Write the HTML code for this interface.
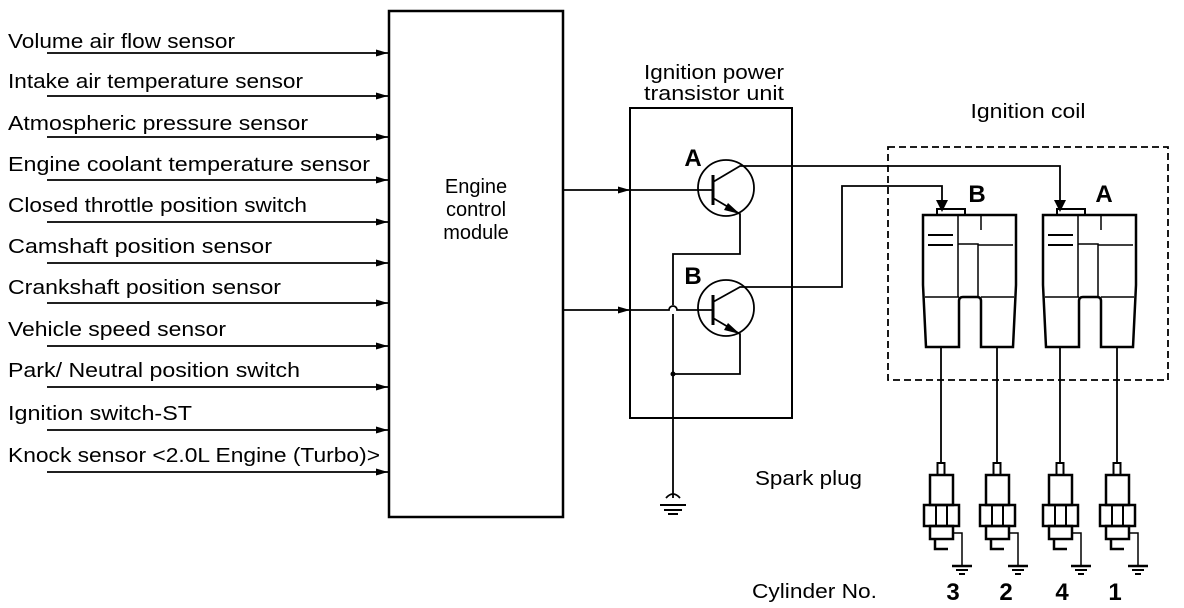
<!DOCTYPE html>
<html><head><meta charset="utf-8"><style>
html,body{margin:0;padding:0;background:#fff;}
svg{display:block;}
text{font-family:"Liberation Sans",Arial,sans-serif;fill:#000;}
</style></head><body>
<svg width="1184" height="608" viewBox="0 0 1184 608" xmlns="http://www.w3.org/2000/svg">
<defs>
<marker id="ar" markerWidth="12" markerHeight="8" refX="12" refY="4" orient="auto" markerUnits="userSpaceOnUse">
<path d="M0,0.5 L12,4 L0,7.5 Z" fill="#000"/></marker>
<g id="plug" fill="none" stroke="#000" stroke-width="2.5">
<rect x="-3.5" y="0" width="7" height="12" stroke-width="2"/>
<rect x="-11" y="12" width="23" height="30"/>
<rect x="-17" y="42" width="35" height="21"/>
<line x1="-5" y1="42" x2="-5" y2="63" stroke-width="2"/>
<line x1="6" y1="42" x2="6" y2="63" stroke-width="2"/>
<rect x="-11" y="63" width="23" height="13"/>
<path d="M-6,76 V86 H7" />
<path d="M12,70 H21 V103" stroke-width="1.5"/>
<line x1="11" y1="103" x2="31" y2="103" stroke-width="2.5"/>
<line x1="15" y1="107" x2="27" y2="107" stroke-width="2"/>
<line x1="18" y1="111" x2="24" y2="111" stroke-width="2"/>
</g>
<g id="coil" fill="none" stroke="#000" stroke-width="2.5">
<path d="M0,0 H93 V70 L90,132 H58 V86 Q58,82 54,82 H40 Q36,82 36,86 V132 H3 L0,70 Z"/>
<rect x="14" y="-6" width="28" height="6" stroke-width="2"/>
<line x1="5" y1="20" x2="30" y2="20" stroke-width="2"/>
<line x1="5" y1="30" x2="30" y2="30" stroke-width="2"/>
<line x1="35" y1="0" x2="35" y2="82" stroke-width="1.5"/>
<path d="M35,29 H55 V82" stroke-width="1.5"/>
<line x1="55" y1="30" x2="90" y2="30" stroke-width="1.5"/>
<line x1="58" y1="0" x2="58" y2="15" stroke-width="1.5"/>
<line x1="2" y1="82" x2="36" y2="82" stroke-width="1.5"/>
<line x1="58" y1="82" x2="91" y2="82" stroke-width="1.5"/>
</g>
</defs>

<g font-size="20" lengthAdjust="spacingAndGlyphs">
<text x="8" y="48" textLength="227" lengthAdjust="spacingAndGlyphs">Volume air flow sensor</text>
<text x="8" y="88" textLength="295" lengthAdjust="spacingAndGlyphs">Intake air temperature sensor</text>
<text x="8" y="130" textLength="300" lengthAdjust="spacingAndGlyphs">Atmospheric pressure sensor</text>
<text x="8" y="171" textLength="362" lengthAdjust="spacingAndGlyphs">Engine coolant temperature sensor</text>
<text x="8" y="212" textLength="299" lengthAdjust="spacingAndGlyphs">Closed throttle position switch</text>
<text x="8" y="253" textLength="264" lengthAdjust="spacingAndGlyphs">Camshaft position sensor</text>
<text x="8" y="294" textLength="273" lengthAdjust="spacingAndGlyphs">Crankshaft position sensor</text>
<text x="8" y="336" textLength="218" lengthAdjust="spacingAndGlyphs">Vehicle speed sensor</text>
<text x="8" y="377" textLength="292" lengthAdjust="spacingAndGlyphs">Park/ Neutral position switch</text>
<text x="8" y="420" textLength="184" lengthAdjust="spacingAndGlyphs">Ignition switch-ST</text>
<text x="8" y="462" textLength="372" lengthAdjust="spacingAndGlyphs">Knock sensor &lt;2.0L Engine (Turbo)&gt;</text>
</g>
<g stroke="#000" stroke-width="1.8" marker-end="url(#ar)">
<line x1="47" y1="53" x2="388" y2="53"/>
<line x1="47" y1="96" x2="388" y2="96"/>
<line x1="47" y1="137" x2="388" y2="137"/>
<line x1="47" y1="180" x2="388" y2="180"/>
<line x1="47" y1="222" x2="388" y2="222"/>
<line x1="47" y1="263" x2="388" y2="263"/>
<line x1="47" y1="303" x2="388" y2="303"/>
<line x1="47" y1="346" x2="388" y2="346"/>
<line x1="47" y1="387" x2="388" y2="387"/>
<line x1="47" y1="430" x2="388" y2="430"/>
<line x1="47" y1="472" x2="388" y2="472"/>
</g>
<rect x="389" y="11" width="174" height="506" fill="none" stroke="#000" stroke-width="2.5"/>
<g font-size="20" text-anchor="middle">
<text x="476" y="193">Engine</text>
<text x="476" y="216">control</text>
<text x="476" y="239">module</text>
<text x="714" y="79" textLength="140" lengthAdjust="spacingAndGlyphs">Ignition power</text>
<text x="714" y="100" textLength="140" lengthAdjust="spacingAndGlyphs">transistor unit</text>
<text x="1028" y="118" textLength="115" lengthAdjust="spacingAndGlyphs">Ignition coil</text>
</g>
<text x="755" y="485" font-size="20" textLength="107" lengthAdjust="spacingAndGlyphs">Spark plug</text>
<text x="752" y="598" font-size="20" textLength="125" lengthAdjust="spacingAndGlyphs">Cylinder No.</text>
<g font-size="24" font-weight="bold" text-anchor="middle">
<text x="953" y="600">3</text><text x="1006" y="600">2</text><text x="1062" y="600">4</text><text x="1115" y="600">1</text>
<text x="693" y="166">A</text><text x="693" y="284">B</text>
<text x="977" y="202">B</text><text x="1104" y="202">A</text>
</g>

<rect x="630" y="108" width="162" height="310" fill="none" stroke="#000" stroke-width="2"/>
<g stroke="#000" stroke-width="1.8" fill="none">
<line x1="563" y1="190" x2="630" y2="190" marker-end="url(#ar)"/>
<line x1="630" y1="190" x2="712" y2="190"/>
<line x1="563" y1="310" x2="630" y2="310" marker-end="url(#ar)"/>
<path d="M630,310 H669 A4,4 0 0 1 677,310 H712"/>
<circle cx="726" cy="188" r="28"/>
<circle cx="726" cy="308" r="28"/>
<line x1="713" y1="175" x2="713" y2="205" stroke-width="3"/>
<line x1="713" y1="295" x2="713" y2="325" stroke-width="3"/>
<path d="M713,182 L740,166 H1060 V210" />
<path d="M713,302 L740,287 H842 V186 H942 V210"/>
<path d="M713,198 L740,214 V254 H673 V305"/>
<path d="M713,318 L740,334 V374 H673"/>
<path d="M673,314 V498"/>
<path d="M666,498 Q673,490 680,498"/>
</g>
<g fill="#000">
<path d="M740,214 L728,203 L724,210 Z"/>
<path d="M740,334 L728,323 L724,330 Z"/>
<path d="M936,200 L948,200 L942,212 Z"/>
<path d="M1054,200 L1066,200 L1060,212 Z"/>
<circle cx="673" cy="374" r="2.5"/>
</g>
<g stroke="#000" stroke-width="2">
<line x1="660" y1="505" x2="686" y2="505"/>
<line x1="664" y1="510" x2="682" y2="510"/>
<line x1="668" y1="514" x2="678" y2="514"/>
</g>

<rect x="888" y="147" width="280" height="233" fill="none" stroke="#000" stroke-width="1.8" stroke-dasharray="7,4"/>
<use href="#coil" x="923" y="215"/>
<use href="#coil" x="1043" y="215"/>
<g stroke="#000" stroke-width="1.8">
<line x1="941" y1="347" x2="941" y2="463"/>
<line x1="997" y1="347" x2="997" y2="463"/>
<line x1="1060" y1="347" x2="1060" y2="463"/>
<line x1="1117" y1="347" x2="1117" y2="463"/>
</g>
<use href="#plug" x="941" y="463"/>
<use href="#plug" x="997" y="463"/>
<use href="#plug" x="1060" y="463"/>
<use href="#plug" x="1117" y="463"/>
</svg>
</body></html>
